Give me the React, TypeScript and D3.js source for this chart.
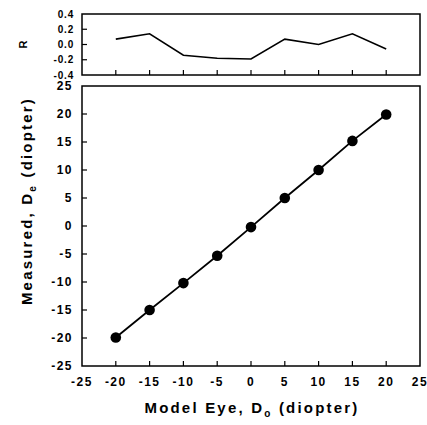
import React from "react";
import * as d3 from "d3";

const modelEye = [-20, -15, -10, -5, 0, 5, 10, 15, 20];
const measured = [-19.9, -15.0, -10.2, -5.3, -0.2, 5.0, 10.0, 15.2, 19.9];
const residual = [0.07, 0.14, -0.14, -0.18, -0.19, 0.07, 0.0, 0.14, -0.06];
const xTicks = [-25, -20, -15, -10, -5, 0, 5, 10, 15, 20, 25];
const yTicks = [-25, -20, -15, -10, -5, 0, 5, 10, 15, 20, 25];
const rTicks = [-0.4, -0.2, 0.0, 0.2, 0.4];

const L = 82, R = 420;
const mainTop = 86, mainBot = 366;
const topTop = 14, topBot = 75;

export default function App() {
  const x = d3.scaleLinear().domain([-25, 25]).range([L, R]);
  const y = d3.scaleLinear().domain([-25, 25]).range([mainBot, mainTop]);
  const yr = d3.scaleLinear().domain([-0.4, 0.4]).range([topBot, topTop]);
  const mainLine = d3.line<number>().x((_, i) => x(modelEye[i])).y((d) => y(d))(measured) || "";
  const rLine = d3.line<number>().x((_, i) => x(modelEye[i])).y((d) => yr(d))(residual) || "";
  const font = "Liberation Sans, Arial, sans-serif";
  return (
    <svg width={427} height={425} style={{ position: "absolute", left: 0, top: 0 }} fontFamily={font}>
      <rect width={427} height={425} fill="#fff" />
      {/* top panel */}
      <rect x={L} y={topTop} width={R - L} height={topBot - topTop} fill="none" stroke="#000" strokeWidth={1.5} />
      {rTicks.map((t, i) => (
        <g key={"rt" + i}>
          {i > 0 && i < rTicks.length - 1 && (
            <line x1={L} x2={L + 5} y1={yr(t)} y2={yr(t)} stroke="#000" strokeWidth={1.2} />
          )}
          <text x={74} y={yr(t)} dy="0.35em" textAnchor="end" fontSize={10} fontWeight="bold" letterSpacing={0.8}>
            {t.toFixed(1)}
          </text>
        </g>
      ))}
      {modelEye.map((t, i) => (
        <line key={"rx" + i} x1={x(t)} x2={x(t)} y1={topBot} y2={topBot - 5} stroke="#000" strokeWidth={1.2} />
      ))}
      <path d={rLine} fill="none" stroke="#000" strokeWidth={1.6} />
      <text transform={`translate(27,${(topTop + topBot) / 2}) rotate(-90)`} textAnchor="middle" fontSize={11} fontWeight="bold">
        R
      </text>

      {/* main panel */}
      <rect x={L} y={mainTop} width={R - L} height={mainBot - mainTop} fill="none" stroke="#000" strokeWidth={1.5} />
      {yTicks.map((t, i) => (
        <g key={"yt" + i}>
          {i > 0 && i < yTicks.length - 1 && (
            <line x1={L} x2={L + 5} y1={y(t)} y2={y(t)} stroke="#000" strokeWidth={1.2} />
          )}
          <text x={73} y={y(t)} dy="0.35em" textAnchor="end" fontSize={12} fontWeight="bold" letterSpacing={1.5}>
            {t}
          </text>
        </g>
      ))}
      {xTicks.map((t, i) => (
        <g key={"xt" + i}>
          {i > 0 && i < xTicks.length - 1 && (
            <line x1={x(t)} x2={x(t)} y1={mainBot} y2={mainBot - 5} stroke="#000" strokeWidth={1.2} />
          )}
          <text x={x(t)} y={386} textAnchor="middle" fontSize={12} fontWeight="bold" letterSpacing={1.5}>
            {t}
          </text>
        </g>
      ))}
      <path d={mainLine} fill="none" stroke="#000" strokeWidth={1.8} />
      {measured.map((d, i) => (
        <circle key={"p" + i} cx={x(modelEye[i])} cy={y(d)} r={5.3} fill="#000" />
      ))}
      <text x={252} y={413} textAnchor="middle" fontSize={15} fontWeight="bold" letterSpacing={2.2}>
        Model Eye, D<tspan fontSize={10} dy={4}>o</tspan>
        <tspan dy={-4}> (diopter)</tspan>
      </text>
      <text transform={`translate(32,201) rotate(-90)`} textAnchor="middle" fontSize={15} fontWeight="bold" letterSpacing={2.2}>
        Measured, D<tspan fontSize={10} dy={4}>e</tspan>
        <tspan dy={-4}> (diopter)</tspan>
      </text>
    </svg>
  );
}
